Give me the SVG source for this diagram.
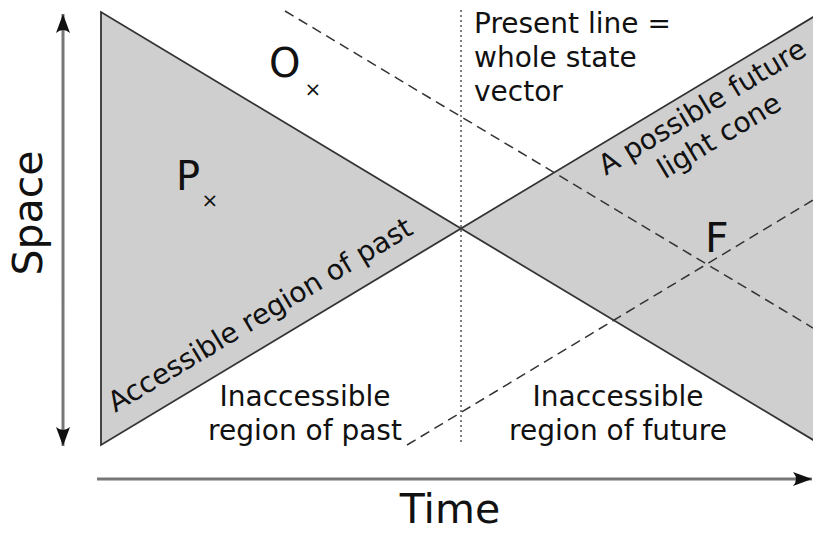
<svg xmlns="http://www.w3.org/2000/svg" width="813" height="536" viewBox="0 0 813 536">
<defs>
<style>
text{font-family:"DejaVu Sans","Liberation Sans",sans-serif;fill:#111}
.lbl{font-size:28px}
.big{font-size:41px}
.x{font-size:20px;text-anchor:middle}
.region{fill:#cfcfcf;stroke:#333;stroke-width:1.8;stroke-linejoin:miter}
.dash{fill:none;stroke:#333;stroke-width:1.5;stroke-dasharray:10,6}
.dot{fill:none;stroke:#555;stroke-width:1.5;stroke-dasharray:2,3}
.axis{fill:none;stroke:#777;stroke-width:3}
</style>
<marker id="ah" viewBox="-20 -8 22 16" markerWidth="22" markerHeight="16" refX="0" refY="0" orient="auto" markerUnits="userSpaceOnUse">
<path d="M0,0 L-19,-7 Q-13,0 -19,7 Z" fill="#111"/>
</marker>
</defs>
<rect width="813" height="536" fill="#fff"/>
<g id="past-cone">
<polygon class="region" points="101,12 101,445 461,228.5"/>
</g>
<g id="future-cone">
<polygon points="461,228.5 814,16.5 814,440.5" fill="#cfcfcf"/>
<polyline points="814,16.5 461,228.5 814,440.5" fill="none" stroke="#333" stroke-width="1.8"/>
</g>
<g id="connectors">
<line class="dot" x1="461" y1="10" x2="461" y2="445"/>
<line class="dash" x1="285" y1="11" x2="813" y2="328"/>
<line class="dash" x1="407" y1="445" x2="813" y2="200"/>
<line class="axis" x1="63" y1="300" x2="63" y2="14" marker-end="url(#ah)"/>
<line class="axis" x1="63" y1="300" x2="63" y2="446" marker-end="url(#ah)"/>
<line class="axis" x1="97" y1="479" x2="812" y2="479" marker-end="url(#ah)"/>
</g>
<g id="axis-labels">
<text class="big" transform="translate(42,213) rotate(-90)" text-anchor="middle">Space</text>
<text class="big" x="450" y="523" text-anchor="middle">Time</text>
</g>
<g id="point-O">
<text x="269" y="77" style="font-size:40px">O</text>
<text class="x" x="313" y="96">×</text>
</g>
<g id="point-P">
<text x="176" y="190" style="font-size:40px">P</text>
<text class="x" x="210" y="207">×</text>
</g>
<g id="point-F">
<text x="705" y="252" style="font-size:41px">F</text>
</g>
<g id="present-line-label">
<text class="lbl" x="474" y="33">Present line =</text>
<text class="lbl" x="474" y="67">whole state</text>
<text class="lbl" x="474" y="101">vector</text>
</g>
<g id="inaccessible-past">
<text class="lbl" x="305" y="406" text-anchor="middle">Inaccessible</text>
<text class="lbl" x="305" y="440" text-anchor="middle">region of past</text>
</g>
<g id="inaccessible-future">
<text class="lbl" x="618" y="406" text-anchor="middle">Inaccessible</text>
<text class="lbl" x="618" y="440" text-anchor="middle">region of future</text>
</g>
<g id="accessible-past">
<text class="lbl" transform="translate(265,323) rotate(-30.96)" text-anchor="middle">Accessible region of past</text>
</g>
<g id="future-light-cone">
<text class="lbl" transform="translate(707,115) rotate(-30.96)" text-anchor="middle">A possible future</text>
<text class="lbl" transform="translate(724,144) rotate(-30.96)" text-anchor="middle">light cone</text>
</g>
</svg>
